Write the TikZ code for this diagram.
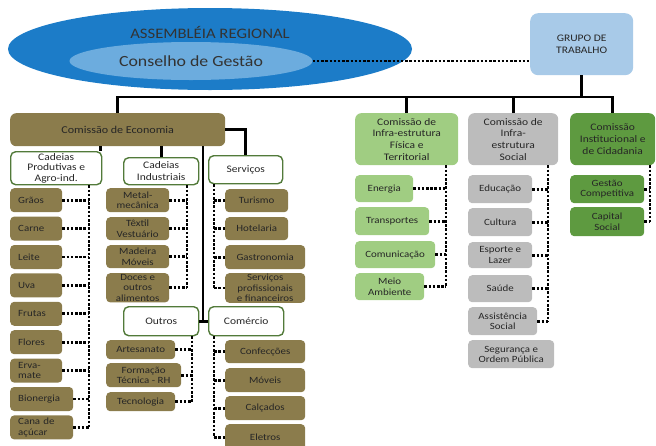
\documentclass[tikz,border=0pt]{standalone}
\usepackage{fontspec}
\setmainfont{Carlito}[FakeStretch=1.15]
\usepackage{xcolor}
\usepackage{tikz}
\usetikzlibrary{positioning,calc,shapes.geometric}
\definecolor{AssemBlue}{RGB}{28,124,200}
\definecolor{ConsBlue}{RGB}{108,172,222}
\definecolor{GrupoBlue}{RGB}{168,202,232}
\definecolor{EcoOlive}{RGB}{139,124,76}
\definecolor{InfraGreen}{RGB}{160,205,130}
\definecolor{SocialGray}{RGB}{188,188,188}
\definecolor{CidGreen}{RGB}{94,154,64}
\definecolor{SubBorder}{RGB}{82,122,58}

\begin{document}
\begin{tikzpicture}[x=1pt, y=-1pt,
                % Estilos dos nós
                ellnode/.style={ellipse, inner sep=0pt, text=black!80},
                combox/.style={rectangle, rounded corners=6pt, anchor=north west, align=center, inner sep=1pt, text=black!85, font=\fontsize{10}{11.7}\selectfont},
                subbox/.style={combox, fill=white, draw=SubBorder, line width=1.4pt, rounded corners=5pt},
                leafnode/.style={rectangle, rounded corners=4pt, anchor=north west, align=center, inner sep=1pt, text=black!85, font=\fontsize{9.5}{10.5}\selectfont},
                ecoleaf/.style={leafnode, fill=EcoOlive},
                prodleaf/.style={ecoleaf, align=left, inner xsep=8pt, text width=36pt},
                infraleaf/.style={leafnode, fill=InfraGreen},
                socialleaf/.style={leafnode, fill=SocialGray},
                cidleaf/.style={leafnode, fill=CidGreen},
                % Estilos das ligações
                trunk/.style={draw=black, line width=2.9pt},
                dotlink/.style={draw=black, line width=2.7pt, dash pattern=on 2.5pt off 1.7pt}
            ]
                \useasboundingbox (0,0) rectangle (656,445);

                % --- TOPO ---
                \node[ellnode, fill=AssemBlue, minimum width=404pt, minimum height=82pt] (assembleia) at (210,49) {};
                \node[text=black!80, font=\fontsize{14.5}{16}\selectfont] (assemtitle) at (210,32) {ASSEMBLÉIA REGIONAL};
                \node[ellnode, fill=ConsBlue, minimum width=243pt, minimum height=38pt, font=\fontsize{15.5}{17}\selectfont] (conselho) at (191,61) {Conselho de Gestão};
                \node[combox, fill=GrupoBlue, rounded corners=8pt, minimum width=103pt, minimum height=62pt] (grupo) at (530,13) {GRUPO DE\\TRABALHO};

                % --- COMISSÕES ---
                \node[combox, fill=EcoOlive, minimum width=215pt, minimum height=33pt, font=\fontsize{10.5}{12}\selectfont] (economia) at (10,113) {Comissão de Economia};
                \node[combox, fill=InfraGreen, minimum width=103pt, minimum height=52pt] (fisica) at (355,113) {Comissão de\\Infra-estrutura\\Física e\\Territorial};
                \node[combox, fill=SocialGray, minimum width=90pt, minimum height=52pt] (social) at (468,113) {Comissão de\\Infra-\\estrutura\\Social};
                \node[combox, fill=CidGreen, minimum width=85pt, minimum height=52pt] (institucional) at (570,113) {Comissão\\Institucional e\\de Cidadania};

                % --- SUBGRUPOS DA ECONOMIA ---
                \node[subbox, minimum width=91pt, minimum height=33pt, font=\fontsize{10}{10.8}\selectfont] (produtivas) at (10,151) {Cadeias\\Produtivas e\\Agro-ind.};
                \node[subbox, minimum width=75pt, minimum height=27pt] (industriais) at (123,157) {Cadeias\\Industriais};
                \node[subbox, minimum width=74pt, minimum height=28pt] (servicos) at (208,155) {Serviços};
                \node[subbox, minimum width=75pt, minimum height=29pt] (outros) at (123,306) {Outros};
                \node[subbox, minimum width=75pt, minimum height=29pt] (comercio) at (208,306) {Comércio};

                % Cadeias produtivas
                \node[prodleaf, minimum height=24pt] (graos) at (10,188) {Grãos};
                \node[prodleaf, minimum height=24pt] (carne) at (10,216.4) {Carne};
                \node[prodleaf, minimum height=24pt] (leite) at (10,244.8) {Leite};
                \node[prodleaf, minimum height=24pt] (uva) at (10,273.2) {Uva};
                \node[prodleaf, minimum height=24pt] (frutas) at (10,301.6) {Frutas};
                \node[prodleaf, minimum height=24pt] (flores) at (10,330) {Flores};
                \node[prodleaf, minimum height=24pt] (erva) at (10,358.4) {Erva-\\mate};
                \node[prodleaf, text width=47pt, minimum height=24pt] (bionergia) at (10,386.8) {Bionergia};
                \node[prodleaf, text width=47pt, minimum height=24pt] (cana) at (10,415.2) {Cana de\\açúcar};

                % Cadeias industriais
                \node[ecoleaf, minimum width=63pt, minimum height=24pt] (metal) at (106,188) {Metal-\\mecânica};
                \node[ecoleaf, minimum width=63pt, minimum height=23pt] (textil) at (106,217) {Têxtil\\Vestuário};
                \node[ecoleaf, minimum width=63pt, minimum height=23pt] (madeira) at (106,245) {Madeira\\Móveis};
                \node[ecoleaf, minimum width=63pt, minimum height=29pt] (doces) at (106,273) {Doces e\\outros\\alimentos};

                % Serviços
                \node[ecoleaf, minimum width=63pt, minimum height=23pt] (turismo) at (225,189) {Turismo};
                \node[ecoleaf, minimum width=63pt, minimum height=23pt] (hotelaria) at (225,217) {Hotelaria};
                \node[ecoleaf, minimum width=80pt, minimum height=24pt] (gastronomia) at (225,245) {Gastronomia};
                \node[ecoleaf, minimum width=80pt, minimum height=29pt] (servprof) at (225,273) {Serviços\\profissionais\\e financeiros};

                % Outros
                \node[ecoleaf, minimum width=69pt, minimum height=19pt] (artesanato) at (106,340) {Artesanato};
                \node[ecoleaf, minimum width=75pt, minimum height=24pt] (formacao) at (106,363) {Formação\\Técnica - RH};
                \node[ecoleaf, minimum width=69pt, minimum height=19pt] (tecnologia) at (106,392) {Tecnologia};

                % Comércio
                \node[ecoleaf, minimum width=80pt, minimum height=23pt] (confeccoes) at (225,340) {Confecções};
                \node[ecoleaf, minimum width=80pt, minimum height=24pt] (moveis) at (225,368) {Móveis};
                \node[ecoleaf, minimum width=80pt, minimum height=24pt] (calcados) at (225,396) {Calçados};
                \node[ecoleaf, minimum width=80pt, minimum height=26pt] (eletros) at (225,424) {Eletros};

                % --- INFRA-ESTRUTURA, SOCIAL, CIDADANIA ---
                \node[infraleaf, minimum width=58pt, minimum height=27pt] (energia) at (355,175) {Energia};
                \node[infraleaf, minimum width=74pt, minimum height=28pt] (transportes) at (355,207) {Transportes};
                \node[infraleaf, minimum width=80pt, minimum height=27pt] (comunicacao) at (355,241) {Comunicação};
                \node[infraleaf, minimum width=69pt, minimum height=27pt] (meio) at (355,273) {Meio\\Ambiente};

                \node[socialleaf, minimum width=64pt, minimum height=28pt] (educacao) at (468,175) {Educação};
                \node[socialleaf, minimum width=64pt, minimum height=28pt] (cultura) at (468,208) {Cultura};
                \node[socialleaf, minimum width=64pt, minimum height=26pt] (esporte) at (468,242) {Esporte e\\Lazer};
                \node[socialleaf, minimum width=64pt, minimum height=27pt] (saude) at (468,275) {Saúde};
                \node[socialleaf, minimum width=69pt, minimum height=28pt] (assistencia) at (468,307) {Assistência\\Social};
                \node[socialleaf, minimum width=86pt, minimum height=28pt] (seguranca) at (468,340) {Segurança e\\Ordem Pública};

                \node[cidleaf, minimum width=74pt, minimum height=28pt] (gestao) at (570,175) {Gestão\\Competitiva};
                \node[cidleaf, minimum width=74pt, minimum height=29pt] (capital) at (570,207) {Capital\\Social};

                % --- LIGAÇÕES SÓLIDAS ---
                \coordinate (bus) at (0,97);
                \coordinate (ecojunc) at (203,320.5);
                \draw[trunk] (grupo.south) -- (grupo.south |- bus);
                \draw[trunk] (economia.north) -- (economia.north |- bus) -- (institucional.north |- bus) -- (institucional.north);
                \draw[trunk] (fisica.north) -- (fisica.north |- bus); \draw[trunk] (social.north) -- (social.north |- bus);
                \draw[trunk] ([xshift=-2pt]produtivas.north east) -- ([xshift=-2pt]produtivas.north east |- economia.south);
                \draw[trunk] (industriais.north) -- (industriais.north |- economia.south);
                \draw[trunk] (economia.east) -| (servicos.north);
                \draw[trunk] (economia.south -| ecojunc) -- (ecojunc);
                \draw[trunk] (outros.east) -- (comercio.west);

                % --- LIGAÇÕES PONTILHADAS ---
                \draw[dotlink] (conselho.east) -- (conselho.east -| grupo.west);

                % Espinhas verticais
                \coordinate (prodspine) at (89,0);
                \coordinate (indspine) at (187,0);
                \coordinate (servspine) at (214,0);
                \coordinate (outspine) at (192,0);
                \coordinate (infraspine) at (446,0);
                \coordinate (socspine) at (548,0);
                \coordinate (cidspine) at (650,0);
                \draw[dotlink] (produtivas.south -| prodspine) -- (cana.east -| prodspine);
                \draw[dotlink] (industriais.south -| indspine) -- (doces.east -| indspine);
                \draw[dotlink] (servicos.south -| servspine) -- (servprof.west -| servspine);
                \draw[dotlink] (outros.south -| outspine) -- (tecnologia.east -| outspine);
                \draw[dotlink] (comercio.south -| servspine) -- (eletros.west -| servspine);
                \draw[dotlink] (fisica.south -| infraspine) -- (meio.east -| infraspine);
                \draw[dotlink] (social.south -| socspine) -- (assistencia.east -| socspine);
                \draw[dotlink] (institucional.south -| cidspine) -- (capital.east -| cidspine);

                % Ramos horizontais
                \draw[dotlink] (graos.east) -- (graos.east -| prodspine); \draw[dotlink] (carne.east) -- (carne.east -| prodspine);
                \draw[dotlink] (leite.east) -- (leite.east -| prodspine); \draw[dotlink] (uva.east) -- (uva.east -| prodspine);
                \draw[dotlink] (frutas.east) -- (frutas.east -| prodspine); \draw[dotlink] (flores.east) -- (flores.east -| prodspine);
                \draw[dotlink] (erva.east) -- (erva.east -| prodspine); \draw[dotlink] (bionergia.east) -- (bionergia.east -| prodspine);
                \draw[dotlink] (cana.east) -- (cana.east -| prodspine);

                \draw[dotlink] (metal.east) -- (metal.east -| indspine); \draw[dotlink] (textil.east) -- (textil.east -| indspine);
                \draw[dotlink] (madeira.east) -- (madeira.east -| indspine); \draw[dotlink] (doces.east) -- (doces.east -| indspine);

                \draw[dotlink] (turismo.west) -- (turismo.west -| servspine); \draw[dotlink] (hotelaria.west) -- (hotelaria.west -| servspine);
                \draw[dotlink] (gastronomia.west) -- (gastronomia.west -| servspine); \draw[dotlink] (servprof.west) -- (servprof.west -| servspine);

                \draw[dotlink] (artesanato.east) -- (artesanato.east -| outspine); \draw[dotlink] (formacao.east) -- (formacao.east -| outspine);
                \draw[dotlink] (tecnologia.east) -- (tecnologia.east -| outspine);

                \draw[dotlink] (confeccoes.west) -- (confeccoes.west -| servspine); \draw[dotlink] (moveis.west) -- (moveis.west -| servspine);
                \draw[dotlink] (calcados.west) -- (calcados.west -| servspine); \draw[dotlink] (eletros.west) -- (eletros.west -| servspine);

                \draw[dotlink] (energia.east) -- (energia.east -| infraspine); \draw[dotlink] (transportes.east) -- (transportes.east -| infraspine);
                \draw[dotlink] (comunicacao.east) -- (comunicacao.east -| infraspine); \draw[dotlink] (meio.east) -- (meio.east -| infraspine);

                \draw[dotlink] (educacao.east) -- (educacao.east -| socspine); \draw[dotlink] (cultura.east) -- (cultura.east -| socspine);
                \draw[dotlink] (esporte.east) -- (esporte.east -| socspine); \draw[dotlink] (saude.east) -- (saude.east -| socspine);
                \draw[dotlink] (assistencia.east) -- (assistencia.east -| socspine);

                \draw[dotlink] (gestao.east) -- (gestao.east -| cidspine); \draw[dotlink] (capital.east) -- (capital.east -| cidspine);

            \end{tikzpicture}
\end{document}
